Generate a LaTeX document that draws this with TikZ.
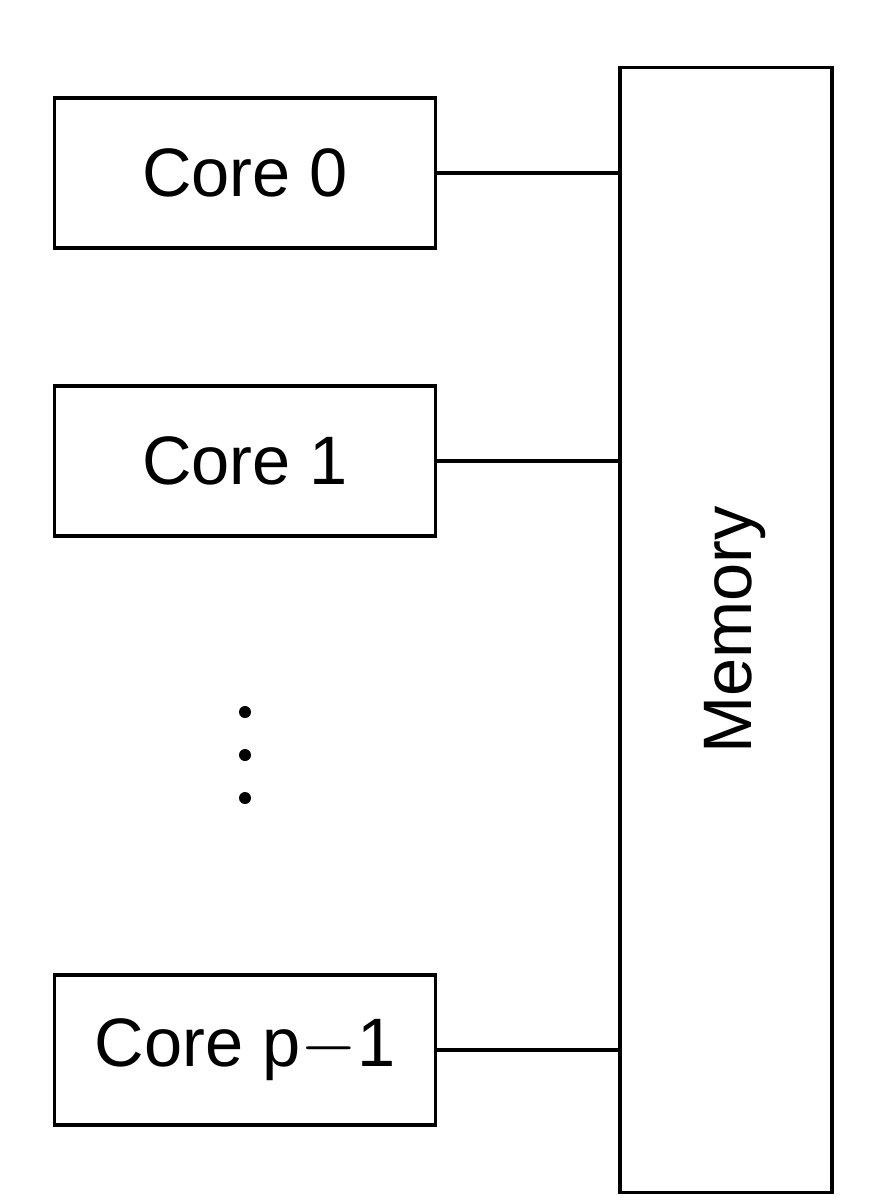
\documentclass[tikz,border=0pt]{standalone}
\usepackage{fontspec}
\setmainfont{Liberation Sans}
\usetikzlibrary{positioning}
\begin{document}
\begin{tikzpicture}[x=0.01cm,y=-0.01cm,line width=0.9pt,
  corebox/.style={draw,minimum width=3.8cm,minimum height=1.5cm,font=\fontsize{19.5}{24}\selectfont}]
			% Frame
			\useasboundingbox (0,0) rectangle (870,1200);
			
			% Memory
			\node[draw,minimum width=2.12cm,minimum height=11.24cm] (mem) at (726,630) {};
			\node[rotate=90,font=\fontsize{19.5}{24}\selectfont] at (735,630) {Memory};
			
			% Cores
			\node[corebox] (c0) at (245,173) {Core 0};
			\node[corebox] (c1) at (245,461) {Core 1};
			\node[corebox] (cp) at (245,1050) {Core p$-$1};
			
			% Links
			\draw (c0.east) -- (c0.east -| mem.west);
			\draw (c1.east) -- (c1.east -| mem.west);
			\draw (cp.east) -- (cp.east -| mem.west);
			
			% Dots
			\foreach \y in {712,755,798}
				\fill (245,\y) circle (6);
		\end{tikzpicture}
\end{document}
